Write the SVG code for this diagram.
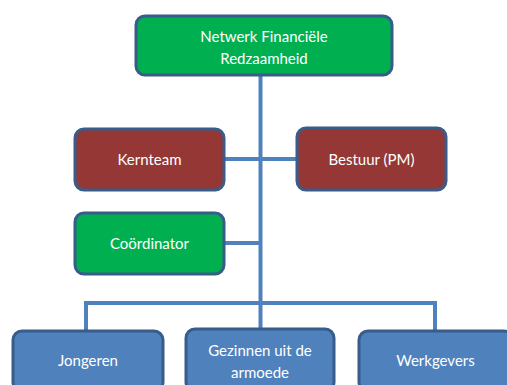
<svg xmlns="http://www.w3.org/2000/svg" width="507" height="385" viewBox="0 0 507 385">
<style>
.box{stroke:#385D8A;stroke-width:3}
.g{fill:#00B050}
.r{fill:#953735}
.b{fill:#4F81BD}
.c{stroke:#4F81BD;stroke-width:4;fill:none}
text{font-family:Lato,"Open Sans","Liberation Sans",sans-serif;font-size:15px;fill:#FFFFFF;text-anchor:middle;dominant-baseline:central}
</style>
<rect width="507" height="385" fill="#FFFFFF"/>
<g id="connectors">
<path class="c" d="M260.5 75V303M86 303H435M86 301V331M435 301V331M260.5 303V329M224 159H296M224 243H262"/>
</g>
<g id="netwerk">
<rect class="box g" x="136" y="16" width="256" height="59" rx="9"/>
<text x="264" y="36">Netwerk Financiële</text>
<text x="264" y="58">Redzaamheid</text>
</g>
<g id="kernteam">
<rect class="box r" x="75" y="129" width="149" height="61" rx="9"/>
<text x="149.5" y="159">Kernteam</text>
</g>
<g id="bestuur">
<rect class="box r" x="297" y="128" width="149" height="62" rx="9"/>
<text x="371.5" y="159">Bestuur (PM)</text>
</g>
<g id="coordinator">
<rect class="box g" x="75" y="213" width="149" height="61" rx="9"/>
<text x="149.5" y="243">Coördinator</text>
</g>
<g id="jongeren">
<rect class="box b" x="13" y="331" width="150" height="60" rx="9"/>
<text x="88" y="360">Jongeren</text>
</g>
<g id="gezinnen">
<rect class="box b" x="186" y="329" width="148" height="62" rx="9"/>
<text x="260" y="350">Gezinnen uit de</text>
<text x="260" y="372">armoede</text>
</g>
<g id="werkgevers">
<rect class="box b" x="359" y="331" width="154" height="60" rx="9"/>
<text x="435.5" y="360">Werkgevers</text>
</g>
</svg>
